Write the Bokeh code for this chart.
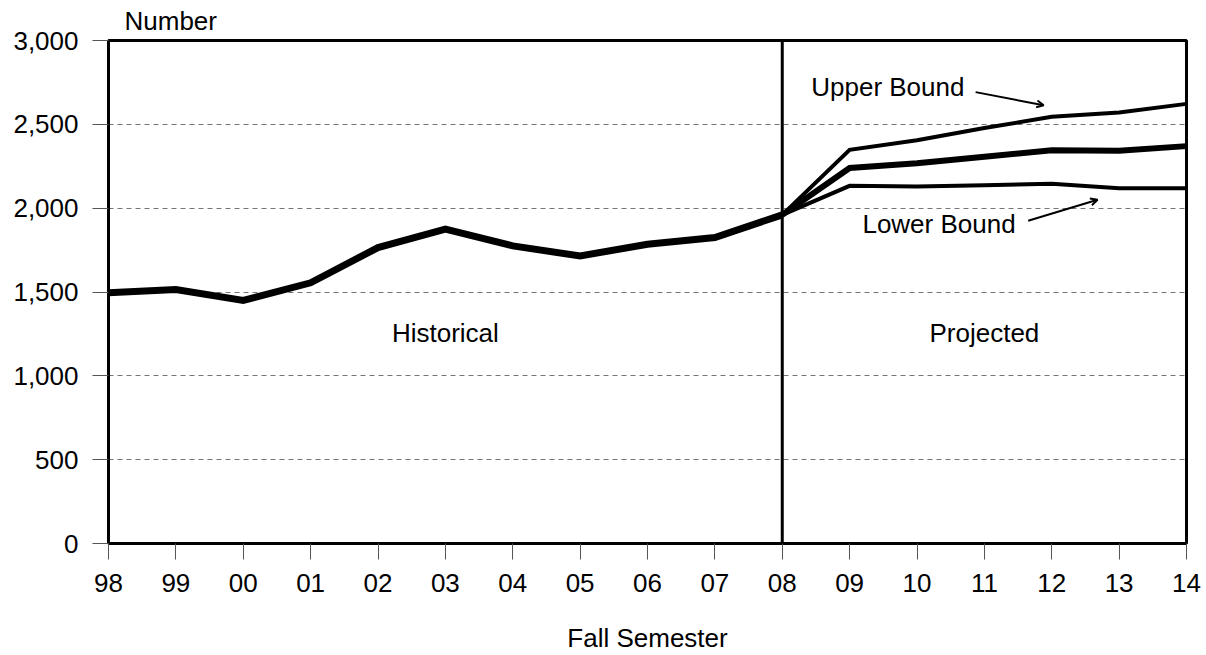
from bokeh.plotting import figure
from bokeh.models import (FixedTicker, NumeralTickFormatter, Label, Arrow, OpenHead,
                          Span, Range1d, Title)
from bokeh.embed import file_html
from bokeh.resources import INLINE

years = ["98", "99", "00", "01", "02", "03", "04", "05", "06", "07", "08",
         "09", "10", "11", "12", "13", "14"]
hist_years = years[:11]
hist_values = [1495, 1515, 1450, 1555, 1765, 1875, 1775, 1715, 1785, 1825, 1960]
proj_years = years[10:]
proj_middle = [1960, 2240, 2268, 2307, 2345, 2342, 2370]
proj_upper = [1960, 2348, 2405, 2478, 2545, 2570, 2622]
proj_lower = [1960, 2133, 2129, 2137, 2145, 2119, 2119]
y_ticks = [0, 500, 1000, 1500, 2000, 2500, 3000]

FONT = "Liberation Sans"
FS = "26px"

idx = {y: i for i, y in enumerate(years)}
hx = [idx[y] for y in hist_years]
px = [idx[y] for y in proj_years]

p = figure(width=1206, height=655, output_backend="svg", toolbar_location=None,
           x_range=Range1d(0, len(years) - 1), y_range=Range1d(0, 3000),
           min_border_left=108, min_border_right=20, min_border_top=40,
           min_border_bottom=110)
p.background_fill_color = "white"
p.border_fill_color = "white"
p.outline_line_color = "black"
p.outline_line_width = 3

t = Title(text="Number", align="left", offset=16, text_font=FONT, text_font_size=FS,
          text_font_style="normal", text_color="black", standoff=6,
          vertical_align="top")
p.add_layout(t, "above")

# grid
p.xgrid.grid_line_color = None
p.ygrid.ticker = FixedTicker(ticks=y_ticks[1:-1])
p.ygrid.grid_line_color = "#777777"
p.ygrid.grid_line_dash = "5 4"
p.ygrid.grid_line_width = 1

# axes
p.xaxis.ticker = FixedTicker(ticks=list(range(len(years))))
p.xaxis.major_label_overrides = {i: y for i, y in enumerate(years)}
p.yaxis.ticker = FixedTicker(ticks=y_ticks)
p.yaxis.formatter = NumeralTickFormatter(format="0,0")
for ax in (p.xaxis, p.yaxis):
    ax.axis_line_color = "black"
    ax.axis_line_width = 3
    ax.major_tick_line_color = "#555555"
    ax.major_tick_line_width = 1
    ax.major_tick_out = 16
    ax.major_tick_in = 0
    ax.minor_tick_line_color = None
    ax.major_label_text_font = FONT
    ax.major_label_text_font_size = FS
    ax.major_label_text_color = "black"
    ax.axis_label_text_font = FONT
    ax.axis_label_text_font_size = FS
    ax.axis_label_text_font_style = "normal"
    ax.axis_label_text_color = "black"
p.xaxis.major_label_standoff = 14
p.yaxis.major_label_standoff = 14
p.xaxis.axis_label = "Fall Semester"
p.xaxis.axis_label_standoff = 28

# divider
p.add_layout(Span(location=idx["08"], dimension="height", line_color="black", line_width=3))

# lines
p.line(hx, hist_values, line_color="black", line_width=7, line_join="miter")
p.line(px, proj_upper, line_color="black", line_width=4, line_join="miter")
p.line(px, proj_lower, line_color="black", line_width=4, line_join="miter")
p.line(px, proj_middle, line_color="black", line_width=6, line_join="miter")

def lab(x, y, t, align="center", baseline="middle", **kw):
    p.add_layout(Label(x=x, y=y, text=t, text_font=FONT, text_font_size=FS,
                       text_align=align, text_baseline=baseline, text_color="black", **kw))

lab(5, 1255, "Historical")
lab(13, 1255, "Projected")
lab(10.43, 2720, "Upper Bound", align="left")
lab(11.19, 1905, "Lower Bound", align="left")

p.add_layout(Arrow(x_start=12.87, y_start=2692, x_end=13.88, y_end=2614,
                   line_color="black", line_width=2,
                   end=OpenHead(size=7, line_width=2, line_color="black")))
p.add_layout(Arrow(x_start=13.65, y_start=1925, x_end=14.68, y_end=2050,
                   line_color="black", line_width=2,
                   end=OpenHead(size=7, line_width=2, line_color="black")))

open("out.html", "w").write(file_html(p, INLINE))
